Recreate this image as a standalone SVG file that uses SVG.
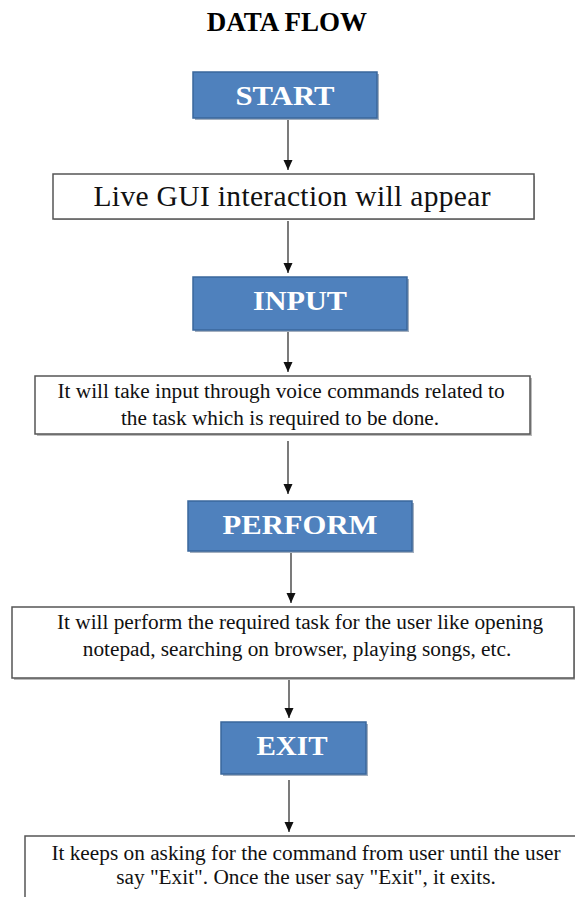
<svg xmlns="http://www.w3.org/2000/svg" width="575" height="897" viewBox="0 0 575 897">
  <style>
    .title { font-family: "Liberation Serif", "Times New Roman", "DejaVu Serif", serif; font-weight: bold; font-size: 27px; fill: #000; }
    .step rect { fill: #4f81bd; stroke: #3a679c; stroke-width: 1.5; }
    .step .shade { fill: #a3afbf; stroke: none; }
    .step text { font-family: "Liberation Serif", "Times New Roman", "DejaVu Serif", serif; font-weight: bold; font-size: 28px; fill: #fff; text-anchor: middle; }
    .note rect { fill: #fff; stroke: #555; stroke-width: 1.5; }
    .note .shade { fill: #bbb; stroke: none; }
    .note text { font-family: "Liberation Serif", "Times New Roman", "DejaVu Serif", serif; font-weight: normal; font-size: 21.3px; fill: #111; text-anchor: middle; }
    .note text.big { font-size: 29.5px; }
    .conn line { stroke: #333; stroke-width: 1.3; marker-end: url(#arrow); }
  </style>
  <defs>
    <marker id="arrow" markerUnits="userSpaceOnUse" markerWidth="10" markerHeight="10" viewBox="0 0 10 10" refX="10" refY="5" orient="auto">
      <path d="M0,0.5 L10,5 L0,9.5 Z" fill="#111"/>
    </marker>
  </defs>

  <rect width="575" height="897" fill="#fff"/>

  <text class="title" x="287" y="31" text-anchor="middle">DATA FLOW</text>

  <!-- connectors -->
  <g id="connectors" class="conn">
    <line x1="288" y1="118" x2="288" y2="170"/>
    <line x1="288" y1="221" x2="288" y2="273"/>
    <line x1="288" y1="331" x2="288" y2="372"/>
    <line x1="288" y1="441" x2="288" y2="494"/>
    <line x1="291" y1="552" x2="291" y2="603"/>
    <line x1="289" y1="680" x2="289" y2="718"/>
    <line x1="289" y1="780" x2="289" y2="832"/>
  </g>

  <!-- steps and notes -->
  <g id="start" class="step">
    <rect class="shade" x="195" y="74" width="184" height="46"/>
    <rect x="193" y="72" width="184" height="46"/>
    <text x="285" y="105" textLength="99" lengthAdjust="spacingAndGlyphs">START</text>
  </g>

  <g id="live-gui" class="note">
    <rect class="shade" x="54" y="176" width="481" height="44"/>
    <rect x="53" y="174" width="481" height="45"/>
    <text class="big" x="292" y="206" textLength="397" lengthAdjust="spacing">Live GUI interaction will appear</text>
  </g>

  <g id="input" class="step">
    <rect class="shade" x="195" y="279" width="214" height="53"/>
    <rect x="193" y="277" width="214" height="53"/>
    <text x="300" y="310" textLength="94" lengthAdjust="spacingAndGlyphs">INPUT</text>
  </g>

  <g id="input-note" class="note">
    <rect class="shade" x="37" y="378" width="495" height="58"/>
    <rect x="35" y="376" width="495" height="58"/>
    <text x="281" y="398">It will take input through voice commands related to</text>
    <text x="280" y="425">the task which is required to be done.</text>
  </g>

  <g id="perform" class="step">
    <rect class="shade" x="190" y="503" width="224" height="50"/>
    <rect x="188" y="501" width="224" height="50"/>
    <text x="300" y="534" textLength="155" lengthAdjust="spacingAndGlyphs">PERFORM</text>
  </g>

  <g id="perform-note" class="note">
    <rect class="shade" x="14" y="609" width="562" height="71"/>
    <rect x="12" y="607" width="562" height="71"/>
    <text x="300" y="629">It will perform the required task for the user like opening</text>
    <text x="297" y="656">notepad, searching on browser, playing songs, etc.</text>
  </g>

  <g id="exit" class="step">
    <rect class="shade" x="223" y="724" width="145" height="52"/>
    <rect x="221" y="722" width="145" height="52"/>
    <text x="292" y="755" textLength="71" lengthAdjust="spacingAndGlyphs">EXIT</text>
  </g>

  <g id="exit-note" class="note">
    <rect class="shade" x="27" y="838" width="552" height="70"/>
    <rect x="25" y="836" width="552" height="70"/>
    <text x="306" y="860">It keeps on asking for the command from user until the user</text>
    <text x="306" y="884">say "Exit". Once the user say "Exit", it exits.</text>
  </g>
</svg>
